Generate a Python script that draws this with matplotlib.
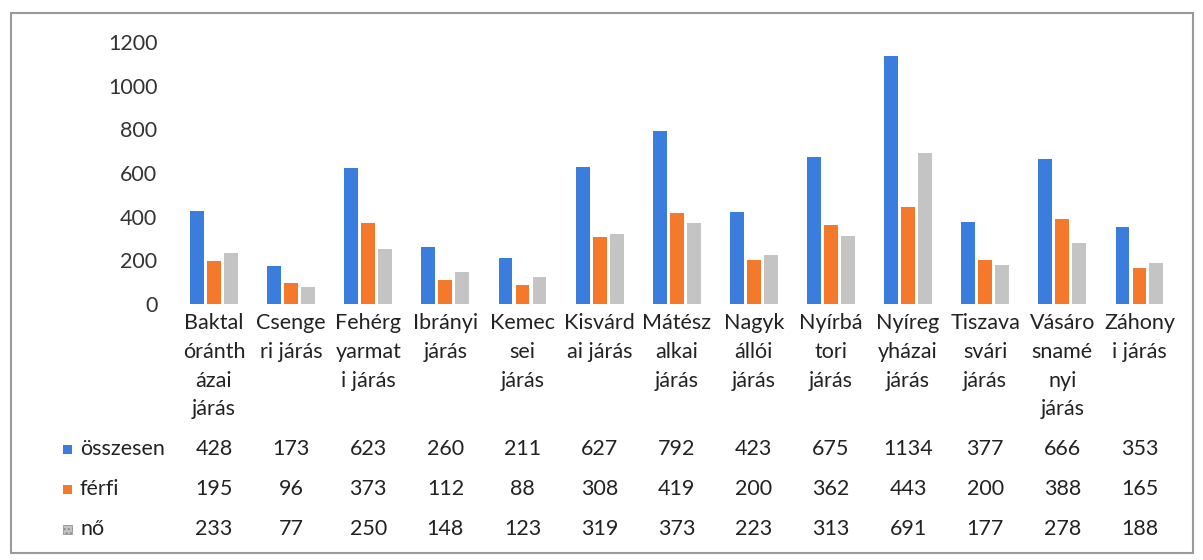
import matplotlib
matplotlib.use("Agg")
import matplotlib.pyplot as plt
from matplotlib.transforms import blended_transform_factory
from matplotlib.patches import Rectangle
import numpy as np

plt.rcParams['font.family'] = ['Lato', 'DejaVu Sans']

categories = ["Baktal\nóránth\názai\njárás", "Csenge\nri járás", "Fehérg\nyarmat\ni járás",
              "Ibrányi\njárás", "Kemec\nsei\njárás", "Kisvárd\nai járás", "Mátész\nalkai\njárás",
              "Nagyk\nállói\njárás", "Nyírbá\ntori\njárás", "Nyíreg\nyházai\njárás",
              "Tiszava\nsvári\njárás", "Vásáro\nsnamé\nnyi\njárás", "Záhony\ni járás"]
series_names = ["összesen", "férfi", "nő"]
osszesen = [428, 173, 623, 260, 211, 627, 792, 423, 675, 1134, 377, 666, 353]
ferfi = [195, 96, 373, 112, 88, 308, 419, 200, 362, 443, 200, 388, 165]
no = [233, 77, 250, 148, 123, 319, 373, 223, 313, 691, 177, 278, 188]
yticks = [0, 200, 400, 600, 800, 1000, 1200]

colors = ['#3b7ddd', '#f5792a', '#c4c4c4']
series = [osszesen, ferfi, no]

W, H = 1203, 560
fig = plt.figure(figsize=(W / 100, H / 100), dpi=100)
fig.patch.set_facecolor('white')

# outer border
fig.add_artist(Rectangle((11 / W, 1 - 553 / H), (1193 - 11) / W, (553 - 13) / H,
                         transform=fig.transFigure, fill=False, edgecolor='#9a9a9a', lw=1.5))

left, right = 175.5, 1178
y0, ytop = 304, 42
ax = fig.add_axes([left / W, 1 - y0 / H, (right - left) / W, (y0 - ytop) / H])
n = len(categories)
x = np.arange(n)
bw = 0.18
step = 0.22
for i, (vals, c) in enumerate(zip(series, colors)):
    ax.bar(x + (i - 1) * step, vals, width=bw, color=c, edgecolor='none', zorder=2)

fs = 15.5
ax.set_xlim(-0.5, n - 0.5)
ax.set_ylim(0, 1200)
ax.set_yticks(yticks)
ax.set_yticklabels([str(t) for t in yticks], fontsize=fs, color='#333333')
ax.tick_params(axis='y', length=0, pad=13)
ax.set_xticks([])
for s in ax.spines.values():
    s.set_visible(False)
ax.patch.set_alpha(0)

tr = blended_transform_factory(ax.transData, fig.transFigure)
for i, cat in enumerate(categories):
    ax.text(i, 1 - 313 / H, cat, transform=tr, ha='center', va='top', fontsize=fs,
            color='#222222', linespacing=1.55, clip_on=False)

row_y = [449, 489, 529]
for r, (name, vals, c) in enumerate(zip(series_names, series, colors)):
    yy = 1 - row_y[r] / H
    for i, v in enumerate(vals):
        ax.text(i, yy, str(v), transform=tr, ha='center', va='center', fontsize=fs,
                color='#222222', clip_on=False)
    fig.text(80 / W, yy, name, ha='left', va='center', fontsize=fs, color='#222222')
    fig.add_artist(Rectangle((63 / W, yy - 4.5 / H), 9 / W, 9 / H, transform=fig.transFigure,
                             facecolor=c, edgecolor='none' if r < 2 else '#888888', lw=0.5,
                             hatch=None if r < 2 else '....'))

fig.savefig('out.png', dpi=100, facecolor='white')
